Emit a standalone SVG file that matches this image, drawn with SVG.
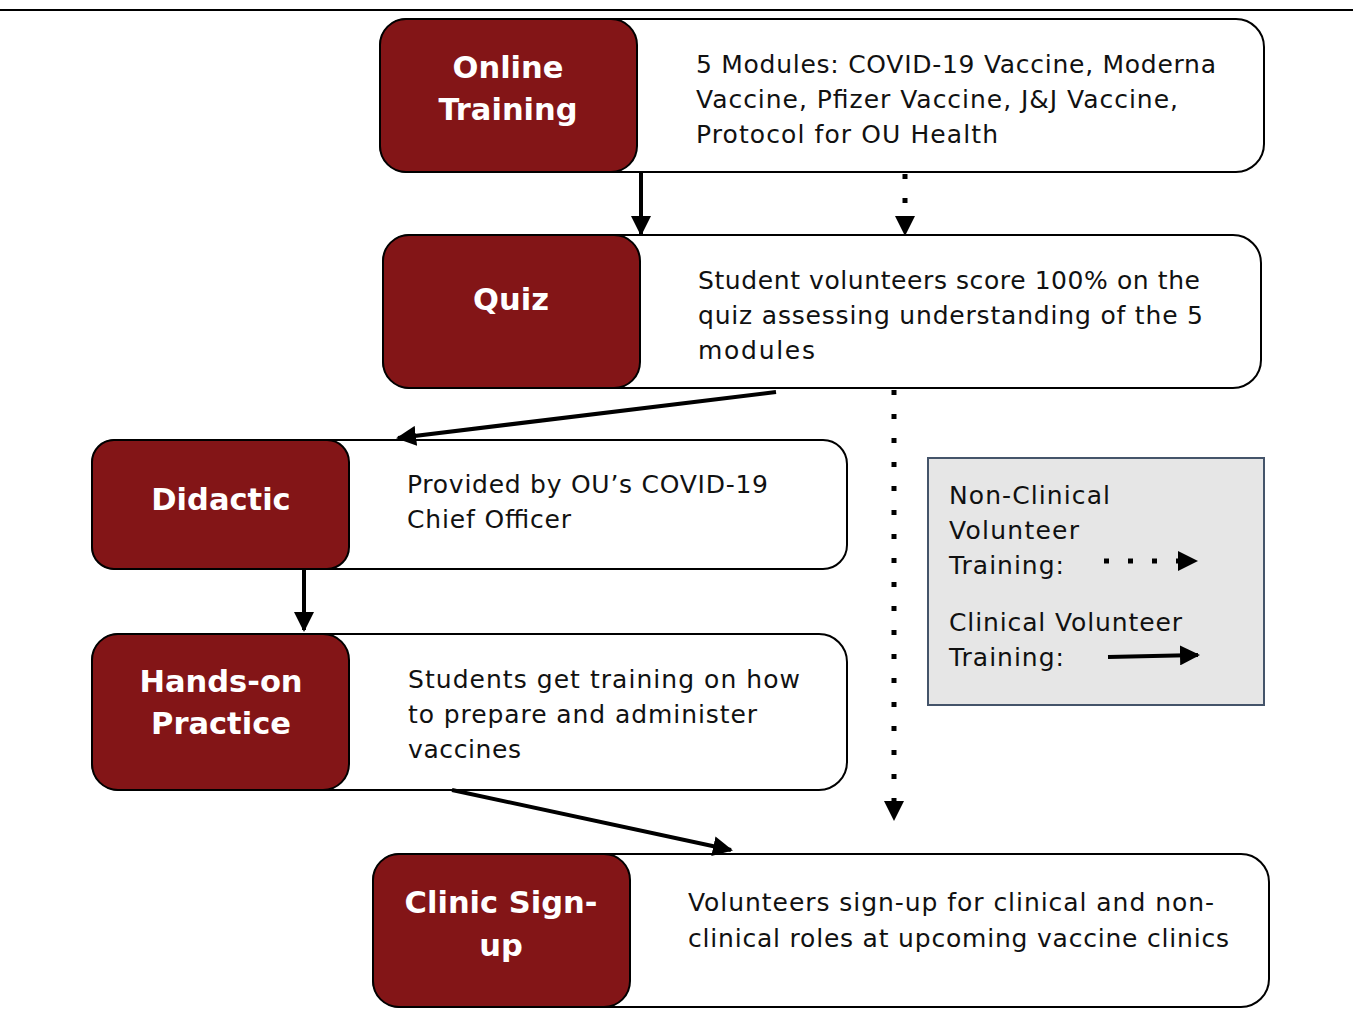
<svg xmlns="http://www.w3.org/2000/svg" width="1353" height="1025" viewBox="0 0 1353 1025">
<style>
.box{fill:#fff;stroke:#000;stroke-width:2}
.tag{fill:#831517;stroke:#000;stroke-width:2}
.lbl{fill:#fff;font-family:"DejaVu Sans","Open Sans",sans-serif;font-weight:bold;font-size:30.5px;text-anchor:middle}
.desc{fill:#111;font-family:"DejaVu Sans","Open Sans",sans-serif;font-size:25px}
.solid{stroke:#000;stroke-width:4;fill:none}
.dot{stroke:#000;stroke-width:5;fill:none;stroke-dasharray:5 19}
</style>
<defs>
<marker id="ah" viewBox="0 0 10 10" refX="9" refY="5" markerWidth="5" markerHeight="5" markerUnits="strokeWidth" orient="auto"><path d="M0,0 L10,5 L0,10 z" fill="#000"/></marker>
<marker id="ahd" viewBox="0 0 10 10" refX="9" refY="5" markerWidth="4" markerHeight="4" markerUnits="strokeWidth" orient="auto"><path d="M0,0 L10,5 L0,10 z" fill="#000"/></marker>
</defs>
<rect width="1353" height="1025" fill="#fff"/>
<line x1="0" y1="10" x2="1353" y2="10" stroke="#000" stroke-width="2"/>

<g id="online-training">
<rect class="box" x="380" y="19" width="884" height="153" rx="28"/>
<rect class="tag" x="380" y="19" width="257" height="153" rx="26"/>
<text class="lbl" x="508" y="78">Online</text>
<text class="lbl" x="508" y="120">Training</text>
<text class="desc" x="696" y="73" textLength="520" lengthAdjust="spacing">5 Modules: COVID-19 Vaccine, Moderna</text>
<text class="desc" x="696" y="108" textLength="482" lengthAdjust="spacing">Vaccine, Pfizer Vaccine, J&amp;J Vaccine,</text>
<text class="desc" x="696" y="143" textLength="302" lengthAdjust="spacing">Protocol for OU Health</text>
</g>

<g id="quiz">
<rect class="box" x="383" y="235" width="878" height="153" rx="28"/>
<rect class="tag" x="383" y="235" width="257" height="153" rx="26"/>
<text class="lbl" x="511" y="310">Quiz</text>
<text class="desc" x="698" y="289" textLength="502" lengthAdjust="spacing">Student volunteers score 100% on the</text>
<text class="desc" x="698" y="324" textLength="505" lengthAdjust="spacing">quiz assessing understanding of the 5</text>
<text class="desc" x="698" y="359" textLength="117" lengthAdjust="spacing">modules</text>
</g>

<g id="didactic">
<rect class="box" x="92" y="440" width="755" height="129" rx="24"/>
<rect class="tag" x="92" y="440" width="257" height="129" rx="22"/>
<text class="lbl" x="221" y="510">Didactic</text>
<text class="desc" x="407" y="493" textLength="361" lengthAdjust="spacing">Provided by OU’s COVID-19</text>
<text class="desc" x="407" y="528" textLength="164" lengthAdjust="spacing">Chief Officer</text>
</g>

<g id="hands-on">
<rect class="box" x="92" y="634" width="755" height="156" rx="28"/>
<rect class="tag" x="92" y="634" width="257" height="156" rx="26"/>
<text class="lbl" x="221" y="692">Hands-on</text>
<text class="lbl" x="221" y="734">Practice</text>
<text class="desc" x="408" y="688" textLength="392" lengthAdjust="spacing">Students get training on how</text>
<text class="desc" x="408" y="723" textLength="349" lengthAdjust="spacing">to prepare and administer</text>
<text class="desc" x="408" y="758" textLength="113" lengthAdjust="spacing">vaccines</text>
</g>

<g id="clinic-signup">
<rect class="box" x="373" y="854" width="896" height="153" rx="28"/>
<rect class="tag" x="373" y="854" width="257" height="153" rx="26"/>
<text class="lbl" x="501" y="913">Clinic Sign-</text>
<text class="lbl" x="501" y="956">up</text>
<text class="desc" x="688" y="911" textLength="526" lengthAdjust="spacing">Volunteers sign-up for clinical and non-</text>
<text class="desc" x="688" y="947" textLength="541" lengthAdjust="spacing">clinical roles at upcoming vaccine clinics</text>
</g>

<g id="legend">
<rect x="928" y="458" width="336" height="247" fill="#e6e6e6" stroke="#44546a" stroke-width="2"/>
<text class="desc" x="949" y="504" textLength="161" lengthAdjust="spacing">Non-Clinical</text>
<text class="desc" x="949" y="539" textLength="130" lengthAdjust="spacing">Volunteer</text>
<text class="desc" x="949" y="574" textLength="115" lengthAdjust="spacing">Training:</text>
<text class="desc" x="949" y="631" textLength="233" lengthAdjust="spacing">Clinical Volunteer</text>
<text class="desc" x="949" y="666" textLength="115" lengthAdjust="spacing">Training:</text>
<line class="dot" x1="1104" y1="561" x2="1196" y2="561" marker-end="url(#ahd)"/>
<line class="solid" x1="1108" y1="657" x2="1198" y2="655" marker-end="url(#ah)"/>
</g>

<g id="connectors">
<line class="solid" x1="641" y1="172" x2="641" y2="234" marker-end="url(#ah)"/>
<line class="dot" x1="905" y1="174" x2="905" y2="234" marker-end="url(#ahd)"/>
<line class="solid" x1="776" y1="392" x2="398" y2="438" marker-end="url(#ah)"/>
<line class="dot" x1="894" y1="390" x2="894" y2="819" marker-end="url(#ahd)"/>
<line class="solid" x1="304" y1="569" x2="304" y2="630" marker-end="url(#ah)"/>
<line class="solid" x1="452" y1="790" x2="731" y2="850" marker-end="url(#ah)"/>
</g>
</svg>
